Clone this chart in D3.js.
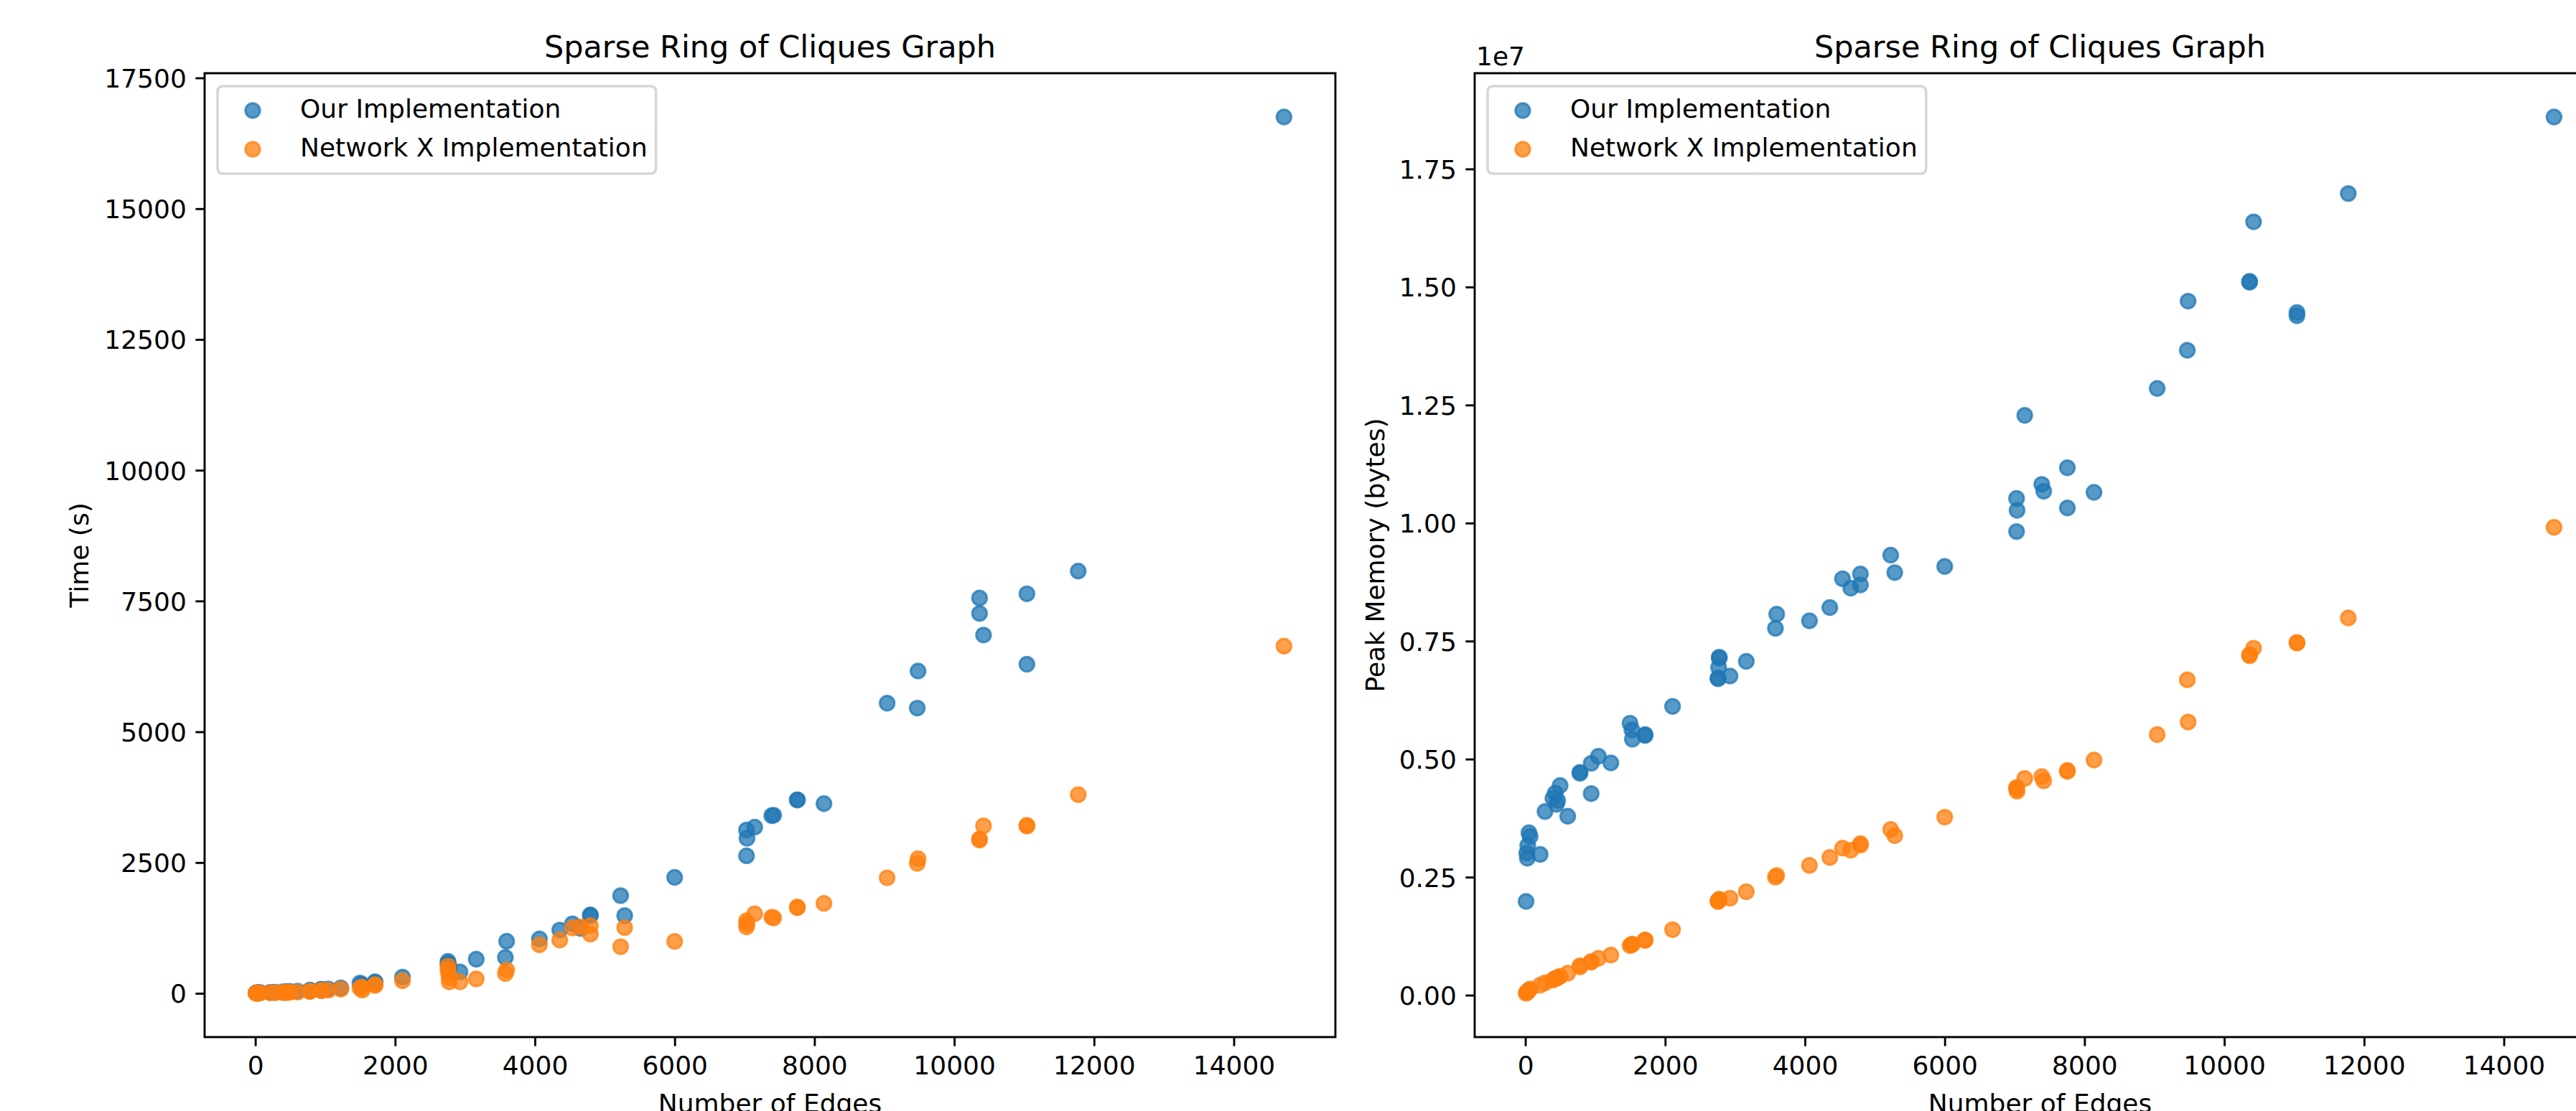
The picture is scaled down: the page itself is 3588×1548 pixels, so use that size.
<!DOCTYPE html>
<html><head><meta charset="utf-8">
<script src="https://cdn.jsdelivr.net/npm/d3@7"></script>
<style>html,body{margin:0;padding:0;background:#fff;overflow:hidden}</style>
</head><body>
<script>
// ---------- DATA ----------
const edges = [10, 20, 28, 34, 51, 68, 212, 281, 394, 428, 445, 462, 497, 606, 781, 781, 942, 942, 1045, 1223, 1497, 1524, 1531, 1713, 1713, 2106,
  2757, 2757, 2765, 2774, 2774, 2928, 3161, 3578, 3596, 4065, 4356, 4538, 4656, 4794, 4794, 5227, 5285, 6000,
  7028, 7028, 7035, 7145, 7389, 7417, 7755, 7755, 8136, 9040, 9471, 9482, 10362, 10362, 10419, 11040, 11040, 11774, 14718];
const timeOurs = [8, 10, 12, 6, 15, 14, 18, 20, 28, 30, 26, 32, 35, 42, 55, 58, 72, 78, 85, 104, 196, 170, 150, 219, 205, 310,
  610, 570, 540, 500, 470, 410, 653, 686, 996, 1040, 1210, 1330, 1240, 1486, 1500, 1868, 1486, 2217,
  2629, 3123, 2963, 3177, 3397, 3405, 3694, 3700, 3626, 5546, 5453, 6162, 7558, 7261, 6849, 7638, 6291, 8071, 16752];
const timeNX = [1, 3, 4, 2, 5, 6, 10, 12, 15, 17, 16, 19, 20, 25, 35, 40, 50, 55, 60, 80, 100, 120, 60, 150, 165, 241,
  520, 450, 380, 300, 220, 219, 274, 378, 447, 928, 1019, 1248, 1270, 1294, 1133, 891, 1257, 992,
  1386, 1270, 1330, 1522, 1454, 1440, 1637, 1650, 1719, 2208, 2483, 2574, 2930, 2950, 3200, 3196, 3210, 3798, 6638];
const memOurs = [1985000, 3010000, 2900000, 3170000, 3440000, 3360000, 2980000, 3890000, 4170000, 4280000, 4040000, 4120000, 4440000, 3790000, 4700000, 4720000, 4910000, 4270000, 5060000, 4920000, 5760000, 5620000, 5420000, 5500000, 5520000, 6116000,
  6700000, 6720000, 6940000, 7140000, 7160000, 6760000, 7070000, 7770000, 8070000, 7930000, 8210000, 8820000, 8620000, 8920000, 8690000, 9320000, 8950000, 9080000,
  10520000, 9820000, 10270000, 12280000, 10820000, 10675000, 11170000, 10320000, 10650000, 12850000, 13660000, 14700000, 15100000, 15120000, 16380000, 14460000, 14390000, 16980000, 18600000];
const memNX = [40000, 60000, 70000, 80000, 100000, 130000, 210000, 260000, 320000, 350000, 360000, 370000, 400000, 465000, 600000, 620000, 700000, 710000, 780000, 850000, 1050000, 1070000, 1080000, 1160000, 1170000, 1387000,
  1980000, 2000000, 2010000, 2020000, 2030000, 2055000, 2190000, 2500000, 2535000, 2750000, 2917000, 3115000, 3070000, 3210000, 3180000, 3510000, 3380000, 3770000,
  4370000, 4400000, 4320000, 4590000, 4630000, 4540000, 4740000, 4760000, 4980000, 5520000, 6680000, 5786000, 7190000, 7210000, 7350000, 7460000, 7470000, 7990000, 9910000];
const seriesNames = ["Our Implementation", "Network X Implementation"];
const seriesColors = ["#1f77b4", "#ff7f0e"];
const xTicks = [0, 2000, 4000, 6000, 8000, 10000, 12000, 14000];
const timeTicks = [0, 2500, 5000, 7500, 10000, 12500, 15000, 17500];
const memTicks = [0, 2500000, 5000000, 7500000, 10000000, 12500000, 15000000, 17500000];
const chartTitle = "Sparse Ring of Cliques Graph";
const xLabel = "Number of Edges";

// ---------- LAYOUT ----------
const W = 3588, H = 1548;
const FONT = "DejaVu Sans";
const svg = d3.select("body").append("svg").attr("width", W).attr("height", H)
  .style("display", "block").style("background", "#fff");

function padExtent(arr) {
  const [a, b] = d3.extent(arr);
  const m = (b - a) * 0.05;
  return [a - m, b + m];
}

function panel(cfg) {
  const g = svg.append("g");
  const x = d3.scaleLinear().domain(padExtent(edges)).range([cfg.left, cfg.right]);
  const y = d3.scaleLinear().domain(padExtent(cfg.series[0].concat(cfg.series[1]))).range([cfg.bottom, cfg.top]);

  // points
  cfg.series.forEach((vals, si) => {
    g.append("g").selectAll("circle").data(vals).join("circle")
      .attr("cx", (d, i) => x(edges[i]))
      .attr("cy", d => y(d))
      .attr("r", 10.2)
      .attr("fill", seriesColors[si]).attr("fill-opacity", 0.75)
      .attr("stroke", seriesColors[si]).attr("stroke-opacity", 0.75)
      .attr("stroke-width", 3);
  });

  // axes
  const xAxis = d3.axisBottom(x).tickValues(xTicks).tickFormat(d3.format("d"))
    .tickSizeInner(12.6).tickSizeOuter(0).tickPadding(12.6);
  const yAxis = d3.axisLeft(y).tickValues(cfg.yTicks).tickFormat(cfg.yFmt)
    .tickSizeInner(12.6).tickSizeOuter(0).tickPadding(12.6);
  const gx = g.append("g").attr("transform", `translate(0,${cfg.bottom})`).call(xAxis);
  const gy = g.append("g").attr("transform", `translate(${cfg.left},0)`).call(yAxis);
  [gx, gy].forEach(a => {
    a.select(".domain").remove();
    a.selectAll(".tick line").attr("stroke", "#000").attr("stroke-width", 2.9);
    a.selectAll(".tick text").attr("fill", "#000").style("font-family", FONT).style("font-size", "36px");
  });
  gx.selectAll(".tick text").attr("dy", null).attr("y", 12.6 + 12.6).attr("dominant-baseline", "hanging");
  gy.selectAll(".tick text").attr("dy", "0.36em");

  // spines
  g.append("rect").attr("x", cfg.left).attr("y", cfg.top)
    .attr("width", cfg.right - cfg.left).attr("height", cfg.bottom - cfg.top)
    .attr("fill", "none").attr("stroke", "#000").attr("stroke-width", 2.9);

  // title
  g.append("text").attr("x", (cfg.left + cfg.right) / 2).attr("y", 80)
    .attr("text-anchor", "middle").style("font-family", FONT).style("font-size", "43px")
    .text(chartTitle);
  // x label
  g.append("text").attr("x", (cfg.left + cfg.right) / 2).attr("y", 1550)
    .attr("text-anchor", "middle").style("font-family", FONT).style("font-size", "36px")
    .text(xLabel);
  // y label
  g.append("text").attr("transform", `translate(${cfg.ylabelX},${(cfg.top + cfg.bottom) / 2}) rotate(-90)`)
    .attr("text-anchor", "middle").style("font-family", FONT).style("font-size", "36px")
    .text(cfg.ylabel);
  if (cfg.offsetText) {
    g.append("text").attr("x", cfg.left + 2).attr("y", 91)
      .style("font-family", FONT).style("font-size", "36px").text(cfg.offsetText);
  }

  // legend
  const bx = cfg.left + 18, by = cfg.top + 18;
  const lg = g.append("g");
  const frame = lg.append("rect").attr("x", bx).attr("y", by).attr("height", 122)
    .attr("rx", 7.2).attr("ry", 7.2)
    .attr("fill", "#fff").attr("fill-opacity", 0.8)
    .attr("stroke", "#cccccc").attr("stroke-opacity", 0.8).attr("stroke-width", 3.6);
  let maxW = 0;
  seriesNames.forEach((name, si) => {
    const ry = by + 34 + si * 54;
    lg.append("circle").attr("cx", bx + 49).attr("cy", ry).attr("r", 10.2)
      .attr("fill", seriesColors[si]).attr("fill-opacity", 0.75)
      .attr("stroke", seriesColors[si]).attr("stroke-opacity", 0.75).attr("stroke-width", 3);
    const t = lg.append("text").attr("x", bx + 115).attr("y", ry + 9.5)
      .style("font-family", FONT).style("font-size", "36px").text(name);
    maxW = Math.max(maxW, t.node().getComputedTextLength());
  });
  frame.attr("width", 115 + maxW + 12);
}

panel({
  left: 285, right: 1860, top: 102, bottom: 1445,
  series: [timeOurs, timeNX], yTicks: timeTicks, yFmt: d3.format("d"),
  ylabel: "Time (s)", ylabelX: 123
});
panel({
  left: 2054, right: 3629, top: 102, bottom: 1445,
  series: [memOurs, memNX], yTicks: memTicks, yFmt: d => (d / 1e7).toFixed(2),
  ylabel: "Peak Memory (bytes)", ylabelX: 1928, offsetText: "1e7"
});
</script>
</body></html>
